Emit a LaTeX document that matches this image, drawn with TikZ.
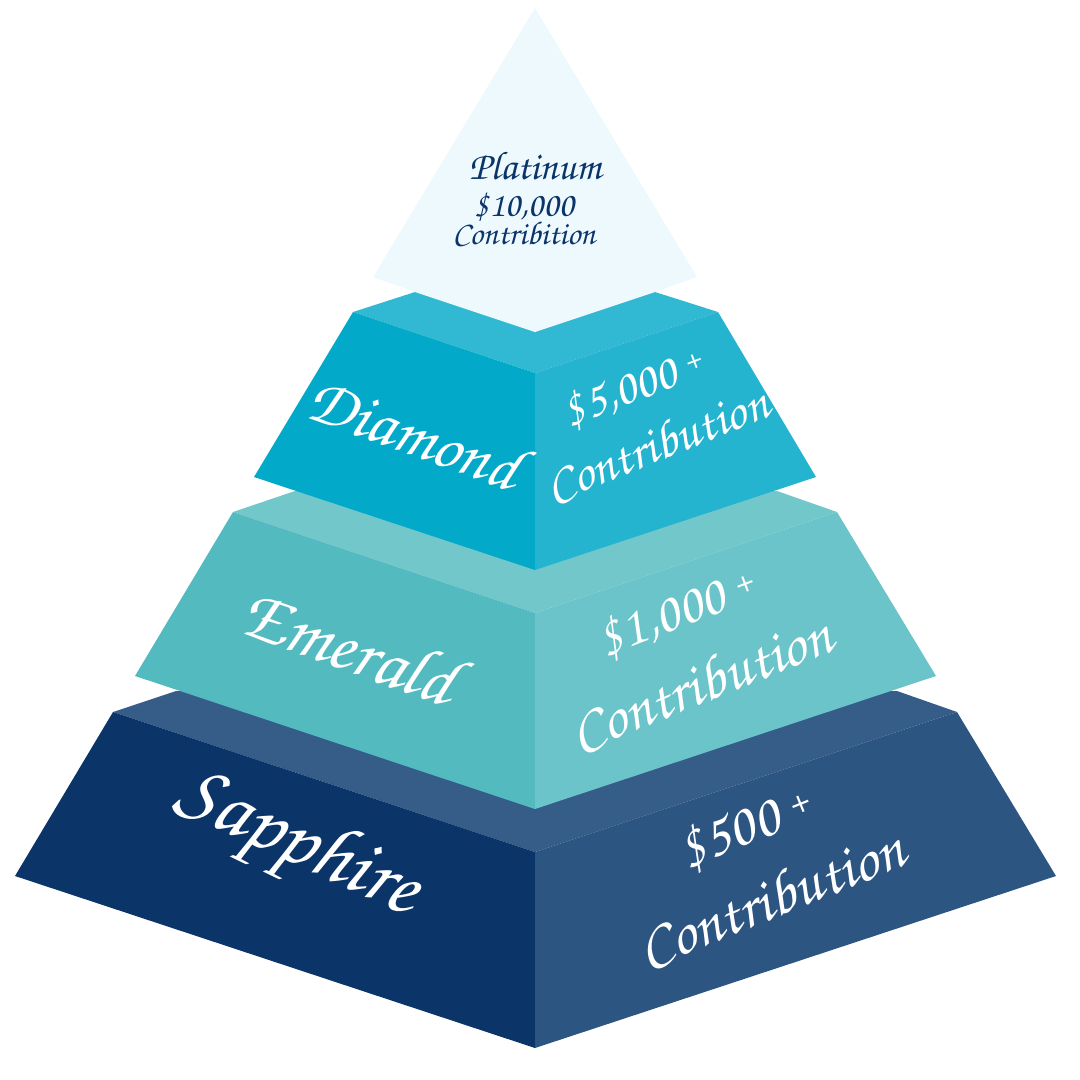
\documentclass[tikz,border=0pt]{standalone}
\usepackage{fontspec}
\usepackage{xcolor}
\definecolor{PlatLight}{HTML}{EEF9FD}
\definecolor{NavyText}{HTML}{0B3469}
\definecolor{DiaTop}{HTML}{31B9D3}
\definecolor{DiaLeft}{HTML}{02A9C9}
\definecolor{DiaRight}{HTML}{24B4D0}
\definecolor{EmTop}{HTML}{72C7CB}
\definecolor{EmLeft}{HTML}{53BAC0}
\definecolor{EmRight}{HTML}{6AC4C9}
\definecolor{SapTop}{HTML}{365C88}
\definecolor{SapLeft}{HTML}{0B3469}
\definecolor{SapRight}{HTML}{2D5582}
\newcommand{\tierfont}{\fontencoding{T1}\fontfamily{pzc}\fontseries{m}\fontshape{it}\selectfont}
\usetikzlibrary{positioning}
\tikzset{
  lbl/.style={inner sep=0pt, text=white, align=center,
              font=\tierfont\fontsize{#1}{#1}\selectfont},
  plbl/.style={lbl=#1, text=NavyText},
}

\begin{document}
\begin{tikzpicture}[x=1pt, y=-1pt]
  \useasboundingbox (0,0) rectangle (1080,1080);

  % Sapphire tier
  \fill[SapTop]   (113,712) -- (176,691) -- (897,691) -- (957,712) -- (535,852) -- cycle;
  \fill[SapLeft]  (113,712) -- (535,852) -- (535,1048) -- (15,876) -- cycle;
  \fill[SapRight] (535,852) -- (957,712) -- (1056,876) -- (535,1048) -- cycle;

  % Emerald tier
  \fill[EmTop]   (233,512) -- (295,491) -- (777,491) -- (837,512) -- (535,613) -- cycle;
  \fill[EmLeft]  (233,512) -- (535,613) -- (535,809) -- (135,676) -- cycle;
  \fill[EmRight] (535,613) -- (837,512) -- (936,676) -- (535,809) -- cycle;

  % Diamond tier
  \fill[DiaTop]   (353,312) -- (415,292) -- (655,292) -- (718,312) -- (535,373) -- cycle;
  \fill[DiaLeft]  (353,312) -- (535,373) -- (535,570) -- (254,477) -- cycle;
  \fill[DiaRight] (535,373) -- (718,312) -- (816,477) -- (535,570) -- cycle;

  % Platinum top
  \fill[PlatLight] (535,8) -- (697,277) -- (655,292) -- (535,332) -- (415,292) -- (373,277) -- cycle;

  % Labels
  \node[plbl=40] (plat) at (535,166) {Platinum};
  \node[plbl=35] (platsum) at (524,207) {\$10,000};
  \node[plbl=33] (platcon) at (524,233) {Contribition};

  \node[lbl=67, rotate=-20] (dia) at (415,432) {Diamond};
  \node[lbl=49, rotate=21] (diasum) at (634,388) {\$5,000 \textsuperscript{+}};
  \node[lbl=52, rotate=22] (diacon) at (656,443) {Contribution};

  \node[lbl=74, rotate=-20] (em) at (350,645) {Emerald};
  \node[lbl=55, rotate=21] (emsum) at (677,613) {\$1,000 \textsuperscript{+}};
  \node[lbl=61, rotate=22] (emcon) at (700,682) {Contribution};

  \node[lbl=84, rotate=-25] (sap) at (297,846) {Sapphire};
  \node[lbl=59, rotate=22] (sapsum) at (746,828) {\$500 \textsuperscript{+}};
  \node[lbl=62, rotate=22] (sapcon) at (770,897) {Contribution};

\end{tikzpicture}
\end{document}
